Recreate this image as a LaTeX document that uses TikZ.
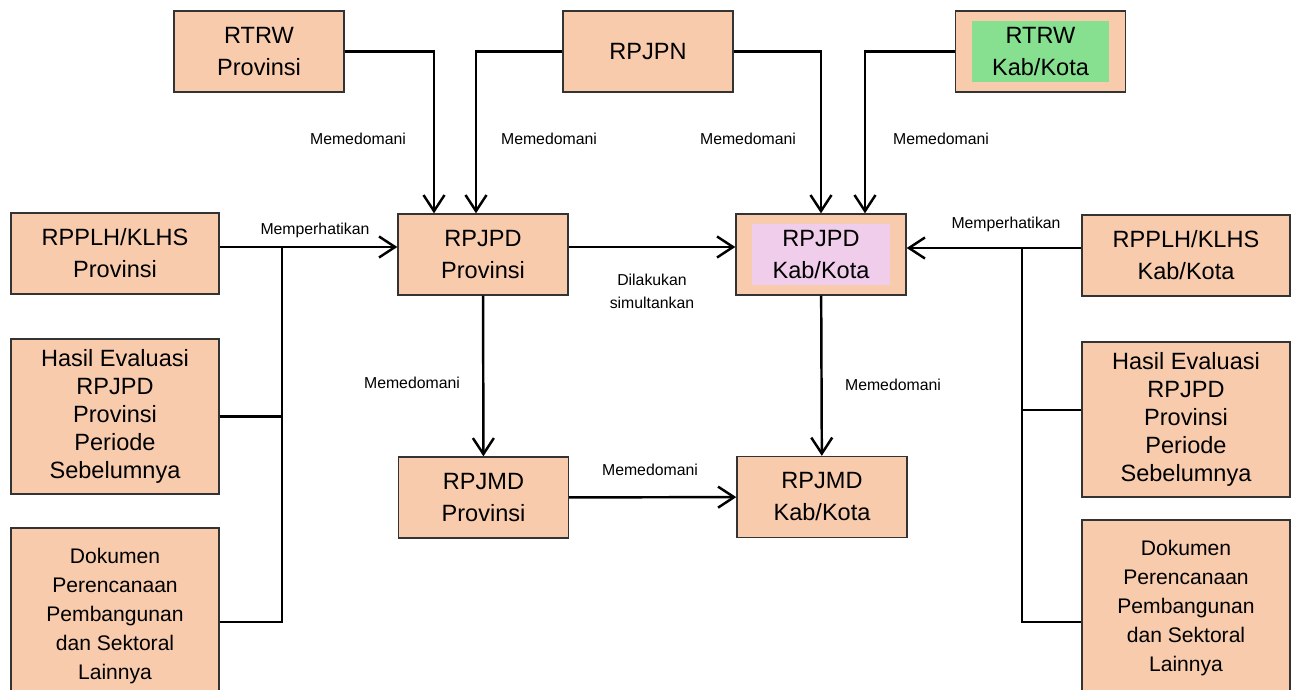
\documentclass[tikz,border=0pt]{standalone}
\usepackage{fontspec}
\setmainfont{Liberation Sans}
\usepackage{tikz}
\usetikzlibrary{arrows.meta,positioning}
\definecolor{ppeach}{HTML}{F8CBAD}
\definecolor{pgreen}{HTML}{86E08F}
\definecolor{ppink}{HTML}{EFCDEB}
\definecolor{pline}{HTML}{333333}

\begin{document}
\begin{tikzpicture}[
  font=\fontsize{13.4}{18.2}\selectfont,
  b/.style={draw=pline,line width=0.8pt,fill=ppeach,
            minimum width=3.4cm,minimum height=1.62cm,align=center,inner sep=1pt},
  bw/.style={b,minimum width=4.16cm},
  bh/.style={bw,minimum height=3.1cm,font=\fontsize{13.4}{15.9}\selectfont},
  bd/.style={bw,minimum height=3.52cm,font=\fontsize{12}{16.6}\selectfont},
  inn/.style={minimum width=2.75cm,minimum height=1.22cm,align=center,inner sep=0pt},
  lb/.style={font=\fontsize{9}{13}\selectfont,align=center,inner sep=0pt},
  ln/.style={draw=black,line width=1.4pt},
  a/.style={ln,-{Straight Barb[length=3.2mm,width=4.2mm]}}]
\useasboundingbox (0,0) rectangle (25.86,-13.8);

% top row
\node[b] (rtrwp) at (5.18,-1.03)  {RTRW\\Provinsi};
\node[b] (rpjpn) at (12.96,-1.03) {RPJPN};
\node[b] (rtrwk) at (20.81,-1.03) {};
\node[inn,fill=pgreen] (rtrwkin) at (rtrwk) {RTRW\\Kab/Kota};

% middle row
\node[bw] (rpplhp) at (2.30,-5.07)  {RPPLH/KLHS\\Provinsi};
\node[b]  (rpjpdp) at (9.66,-5.09)  {RPJPD\\Provinsi};
\node[b]  (rpjpdk) at (16.42,-5.09) {};
\node[inn,fill=ppink] (rpjpdkin) at (rpjpdk) {RPJPD\\Kab/Kota};
\node[bw] (rpplhk) at (23.72,-5.11) {RPPLH/KLHS\\Kab/Kota};

% lower rows
\node[bh] (hasilp) at (2.30,-8.33)  {Hasil Evaluasi\\RPJPD\\Provinsi\\Periode\\Sebelumnya};
\node[bh] (hasilk) at (23.72,-8.39) {Hasil Evaluasi\\RPJPD\\Provinsi\\Periode\\Sebelumnya};
\node[bd] (dokp) at (2.30,-12.32)  {Dokumen\\Perencanaan\\Pembangunan\\dan Sektoral\\Lainnya};
\node[bd] (dokk) at (23.72,-12.16) {Dokumen\\Perencanaan\\Pembangunan\\dan Sektoral\\Lainnya};
\node[b] (rpjmdp) at (9.67,-9.95)  {RPJMD\\Provinsi};
\node[b] (rpjmdk) at (16.44,-9.94) {RPJMD\\Kab/Kota};

% top arrows
\draw[a] (rtrwp.east) -| ([xshift=-9.8mm]rpjpdp.north);
\draw[a] (rpjpn.west) -| ([xshift=-1.4mm]rpjpdp.north);
\draw[a] (rpjpn.east) -| (rpjpdk.north);
\draw[a] (rtrwk.west) -| ([xshift=8.8mm]rpjpdk.north);
\node[lb] (lm1) at (7.16,-2.78)  {Memedomani};
\node[lb] (lm2) at (10.98,-2.78) {Memedomani};
\node[lb] (lm3) at (14.96,-2.78) {Memedomani};
\node[lb] (lm4) at (18.82,-2.78) {Memedomani};

% left bus
\coordinate (jp) at (5.64,-4.94);
\coordinate (bp) at (5.64,-12.44);
\draw[a] (rpplhp.east |- jp) -- (rpjpdp.west |- jp);
\draw[ln] (jp) -- (bp) -- (dokp.east |- bp);
\draw[ln] (hasilp) -- (hasilp -| jp);
\node[lb] (lpp) at (6.30,-4.60) {Memperhatikan};

% right bus
\coordinate (jk) at (20.44,-4.96);
\coordinate (bk) at (20.44,-12.44);
\draw[a] (rpplhk.west |- jk) -- (rpjpdk.east |- jk);
\draw[ln] (jk) -- (bk) -- (dokk.west |- bk);
\draw[ln] (hasilk.west |- 0,-8.2) -- (jk |- 0,-8.2);
\node[lb] (lpk) at (20.12,-4.48) {Memperhatikan};

% centre
\draw[a] (rpjpdp.east |- jp) -- (rpjpdk.west |- jp);
\node[lb] (lsim) at (13.04,-5.82) {Dilakukan\\simultankan};
\draw[a] (rpjpdp) -- (rpjmdp);
\draw[a] (rpjpdk) -- (rpjmdk);
\draw[a] (rpjmdp) -- (rpjmdk);
\node[lb] (lm5) at (8.24,-7.66)  {Memedomani};
\node[lb] (lm6) at (17.86,-7.70) {Memedomani};
\node[lb] (lm7) at (13.00,-9.40) {Memedomani};
\end{tikzpicture}
\end{document}
